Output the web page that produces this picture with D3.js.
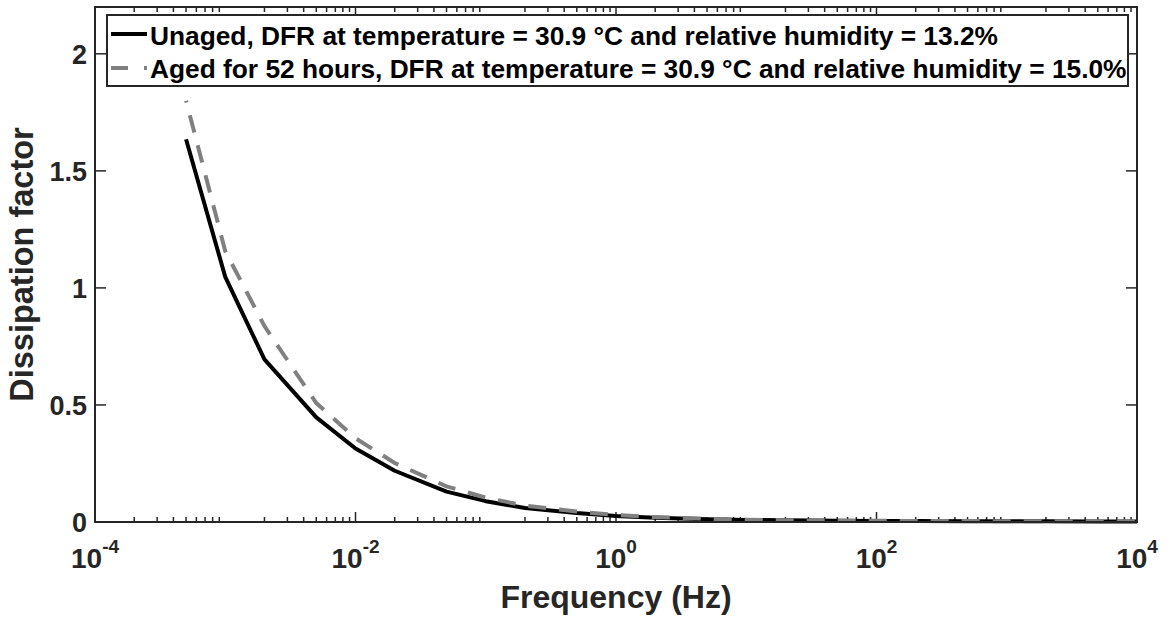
<!DOCTYPE html>
<html>
<head>
<meta charset="utf-8">
<script src="https://cdn.jsdelivr.net/npm/d3@7"></script>
<style>
  html, body { margin: 0; padding: 0; background: #fff; }
  svg { display: block; }
  text { font-family: "Liberation Sans", Arial, Helvetica, sans-serif; font-weight: bold; }
</style>
</head>
<body>
<div id="chart"></div>
<script>
// ---- data ----
const frequencies = [5e-4, 1e-3, 2e-3, 5e-3, 1e-2, 2e-2, 5e-2, 0.1, 0.2, 0.5, 1, 2, 5, 10, 20, 50, 100, 200, 500, 1000, 2000, 5000, 10000];
const unagedDF = [1.635, 1.047, 0.695, 0.447, 0.314, 0.219, 0.130, 0.089, 0.060, 0.038, 0.026, 0.018, 0.012, 0.009, 0.007, 0.005, 0.0045, 0.004, 0.0035, 0.003, 0.003, 0.0025, 0.0025];
const agedDF   = [1.800, 1.157, 0.837, 0.508, 0.358, 0.252, 0.152, 0.104, 0.070, 0.045, 0.030, 0.021, 0.014, 0.010, 0.0075, 0.0055, 0.005, 0.0045, 0.004, 0.0035, 0.003, 0.003, 0.0028];
const xTickExponents = [-4, -2, 0, 2, 4];
const yTickValues = [0, 0.5, 1, 1.5, 2];
const yTickLabels = ["0", "0.5", "1", "1.5", "2"];
const seriesNames = [
  "Unaged, DFR at temperature = 30.9 °C and relative humidity = 13.2%",
  "Aged for 52 hours, DFR at temperature = 30.9 °C and relative humidity = 15.0%"
];
const xLabel = "Frequency (Hz)";
const yLabel = "Dissipation factor";

// ---- layout ----
const W = 1169, H = 617;
const L = 95, R = 1137, T = 7, B = 522;
const axisColor = "#262626";

const svg = d3.select("#chart").append("svg").attr("width", W).attr("height", H);

const x = d3.scaleLog().domain([1e-4, 1e4]).range([L, R]);
const y = d3.scaleLinear().domain([0, 2.2]).range([B, T]);

// ticks (inward, all four sides)
const g = svg.append("g");
const minorTicks = [];
for (let e = -4; e < 4; e++) for (let m = 2; m <= 9; m++) minorTicks.push(m * Math.pow(10, e));
const majorTicks = xTickExponents.map(e => Math.pow(10, e));

function addTicks(vals, len) {
  g.selectAll(null).data(vals).enter().append("line")
    .attr("x1", d => x(d)).attr("x2", d => x(d))
    .attr("y1", B).attr("y2", B - len)
    .attr("stroke", axisColor).attr("stroke-width", 1.5);
  g.selectAll(null).data(vals).enter().append("line")
    .attr("x1", d => x(d)).attr("x2", d => x(d))
    .attr("y1", T).attr("y2", T + len)
    .attr("stroke", axisColor).attr("stroke-width", 1.5);
}
addTicks(minorTicks, 5);
addTicks(majorTicks, 10);

g.selectAll(null).data(yTickValues).enter().append("line")
  .attr("x1", L).attr("x2", L + 11)
  .attr("y1", d => y(d)).attr("y2", d => y(d))
  .attr("stroke", axisColor).attr("stroke-width", 1.5);
g.selectAll(null).data(yTickValues).enter().append("line")
  .attr("x1", R).attr("x2", R - 11)
  .attr("y1", d => y(d)).attr("y2", d => y(d))
  .attr("stroke", axisColor).attr("stroke-width", 1.5);

// x tick labels
const xt = svg.append("g").selectAll("text").data(xTickExponents).enter().append("text")
  .attr("x", d => x(Math.pow(10, d)))
  .attr("y", 568)
  .attr("text-anchor", "middle")
  .attr("fill", axisColor)
  .attr("font-size", 28);
xt.append("tspan").text("10");
xt.append("tspan").attr("dy", -15).attr("font-size", 19).text(d => String(d));

// y tick labels
svg.append("g").selectAll("text").data(yTickValues).enter().append("text")
  .attr("x", 87)
  .attr("y", d => y(d))
  .attr("dy", "0.36em")
  .attr("text-anchor", "end")
  .attr("fill", axisColor)
  .attr("font-size", 27)
  .text((d, i) => yTickLabels[i]);

// axis labels
svg.append("text")
  .attr("x", (L + R) / 2).attr("y", 608)
  .attr("text-anchor", "middle")
  .attr("fill", axisColor)
  .attr("font-size", 32)
  .text(xLabel);
svg.append("text")
  .attr("transform", `translate(33,${(T + B) / 2}) rotate(-90)`)
  .attr("text-anchor", "middle")
  .attr("fill", axisColor)
  .attr("font-size", 32.5)
  .text(yLabel);

// lines
const line = d3.line().x(d => x(d[0])).y(d => y(d[1]));
const unagedPts = frequencies.map((f, i) => [f, unagedDF[i]]);
const agedPts = frequencies.map((f, i) => [f, agedDF[i]]);

svg.append("path").datum(unagedPts).attr("d", line)
  .attr("fill", "none").attr("stroke", "#000").attr("stroke-width", 4)
  .attr("stroke-linejoin", "round");
svg.append("path").datum(agedPts).attr("d", line)
  .attr("fill", "none").attr("stroke", "#808080").attr("stroke-width", 4)
  .attr("stroke-dasharray", "18,13").attr("stroke-dashoffset", 16);

// frame
svg.append("rect").attr("x", L).attr("y", T).attr("width", R - L).attr("height", B - T)
  .attr("fill", "none").attr("stroke", axisColor).attr("stroke-width", 2);

// legend
const lg = svg.append("g");
lg.append("rect").attr("x", 107).attr("y", 15).attr("width", 1021).attr("height", 71)
  .attr("fill", "#fff").attr("stroke", axisColor).attr("stroke-width", 2);
const legRows = [
  { name: seriesNames[0], color: "#000", dash: null, ly: 34, ty: 45 },
  { name: seriesNames[1], color: "#808080", dash: "17,16", ly: 68, ty: 78 }
];
legRows.forEach(r => {
  const ln = lg.append("line").attr("x1", 111).attr("x2", 147).attr("y1", r.ly).attr("y2", r.ly)
    .attr("stroke", r.color).attr("stroke-width", 4);
  if (r.dash) ln.attr("stroke-dasharray", r.dash);
  lg.append("text").attr("x", 150).attr("y", r.ty).attr("font-size", 26.3)
    .attr("fill", "#000").text(r.name);
});
</script>
</body>
</html>
